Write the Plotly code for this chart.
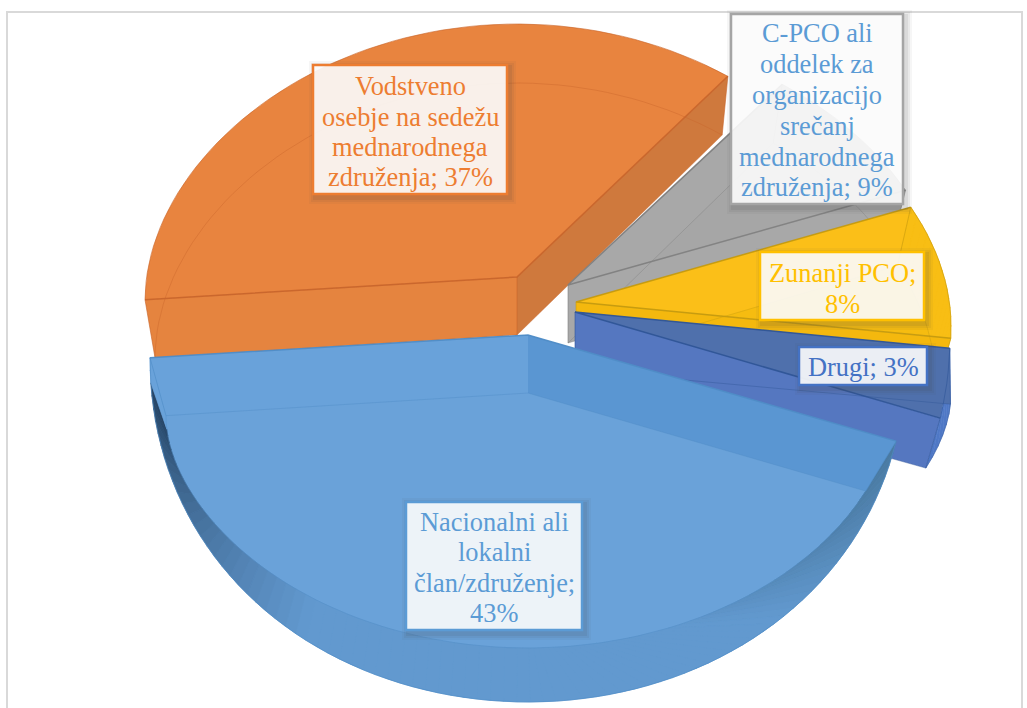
import math
import plotly.graph_objects as go

# ---- data ----
categories = ["Nacionalni ali lokalni član/združenje",
              "Vodstveno osebje na sedežu mednarodnega združenja",
              "C-PCO ali oddelek za organizacijo srečanj mednarodnega združenja",
              "Zunanji PCO", "Drugi"]
values = [43, 37, 9, 8, 3]
label_lines = [["Nacionalni ali", "lokalni", "član/združenje;", "{v}%"],
               ["Vodstveno", "osebje na sedežu", "mednarodnega", "združenja; {v}%"],
               ["C-PCO ali", "oddelek za", "organizacijo", "srečanj", "mednarodnega", "združenja; {v}%"],
               ["Zunanji PCO;", "{v}%"],
               ["Drugi; {v}%"]]

# ---- style ----
face_colors = ["#659FD8", "#E8843F", "#A6A6A6", "#F6BC10", "#4F70AC"]
edge_colors = ["#4F8CC6", "#C8642A", "#808080", "#C49A10", "#2F5597"]
end_wall = ["#69A2DA", "#CF793D", "#A8A8A8", "#F4B80E", "#5577C0"]
start_wall = ["#5A96D2", "#E5843F", "#A8A8A8", "#FBBF18", "#4F70AC"]
text_colors = ["#5B9BD5", "#ED7D31", "#5B9BD5", "#FFC000", "#4472C4"]
box_borders = ["#5B9BD5", "#ED7D31", "#A5A5A5", "#FFC000", "#4472C4"]
apex = [(528, 335), (517, 277), (568, 285), (576, 302), (575, 312)]
radius = [378, 372, 378, 375, 375]
inner_radius = [362, 362, 362, 360, 376]
DEPTH = 58
START = -12.5
boxes = [(406, 502, 582, 630), (313, 65, 507, 194), (731, 14, 903, 204),
         (760, 252, 924, 320), (799, 347, 927, 385)]
line_y = [[522, 552, 583, 613], [86, 117, 147, 177], [33, 64, 95, 126, 157, 187],
          [273, 304], [367]]
draw_order = [1, 2, 3, 4, 0]


def warp(deg):
    return (deg - 6.5 * (1 + math.cos(math.radians(deg + 167)))
            - 2 * math.exp(-((deg + 300) / 20) ** 2))


def top_rim(deg, a):
    r = math.radians(deg)
    sn, cs = math.sin(r), math.cos(r)
    if sn <= 0:
        s = -sn
        return a * cs, 367 * s + 24 * (1 - s * s)
    return a * cs, -253 * sn + 24 * (1 - sn * sn)


def bottom_rim(deg, a):
    d = (deg + 180) % 360 - 180
    if -90 < d < 0:
        d = d - 18 * math.sin(math.radians(-2 * d))
    r = math.radians(d)
    sn, cs = math.sin(r), math.cos(r)
    if sn <= 0:
        s = -sn
        return a * cs, DEPTH + 255 * s + 24 * (1 - s) ** 3
    return a * cs, DEPTH - 252 * sn + 24 * (1 - sn * sn)


def steps(a0, a1, n):
    return [a0 + (a1 - a0) * i / n for i in range(n + 1)]


def lerp_hex(c0, c1, t):
    p = [int(c0[i:i + 2], 16) for i in (1, 3, 5)]
    q = [int(c1[i:i + 2], 16) for i in (1, 3, 5)]
    return "rgb(%d,%d,%d)" % tuple(round(p[i] + (q[i] - p[i]) * t) for i in range(3))


def rgba(hexc, al):
    return "rgba(%d,%d,%d,%s)" % (int(hexc[1:3], 16), int(hexc[3:5], 16), int(hexc[5:7], 16), al)


fig = go.Figure()


def poly(xs, ys, fill=None, line=None, width=1):
    fig.add_trace(go.Scatter(
        x=xs, y=ys, mode="lines", hoverinfo="skip", showlegend=False,
        fill="toself" if fill else None, fillcolor=fill,
        line=dict(color=line or "rgba(0,0,0,0)", width=width if line else 0)))


# slice boundaries from the values
total = sum(values)
bounds = []
c = START
for v in values:
    n = c - 360 * v / total
    bounds.append((warp(c), warp(n)))
    c = n

for i in draw_order:
    a0, a1 = bounds[i]
    cx, cy = apex[i]
    a, ai = radius[i], inner_radius[i]
    col, edge = face_colors[i], edge_colors[i]
    n = max(6, int(abs(a1 - a0) / 2))
    ang = steps(a0, a1, n)
    top = [top_rim(t, a) for t in ang]
    bot = [bottom_rim(t, ai) for t in ang]
    # top face
    tx = [cx] + [cx + p[0] for p in top] + [cx]
    ty = [cy] + [cy + p[1] for p in top] + [cy]
    poly(tx, ty, rgba(col, 0.97 if i == 0 else 1))
    # rim wall between the two arcs (front slices)
    if i == 0:
        for k in range(n):
            t = (ang[k] - a1) / (a0 - a1)  # 1 at right end, 0 at left end
            if t < 0.025:
                shade = "#69A2DA"
            elif t < 0.33:
                shade = lerp_hex("#223F5E", "#6299CF", ((t - 0.025) / 0.305) ** 0.8)
            elif t < 0.8:
                shade = "#6299CF"
            else:
                shade = lerp_hex("#6299CF", "#4A7AA2", (t - 0.8) / 0.2)
            px = [cx + top[k][0], cx + top[k + 1][0], cx + bot[k + 1][0], cx + bot[k][0], cx + top[k][0]]
            py = [cy + top[k][1], cy + top[k + 1][1], cy + bot[k + 1][1], cy + bot[k][1], cy + top[k][1]]
            poly(px, py, shade, shade, 0.6)
    elif i in (3, 4):
        wall_col = "#F8BE14" if i == 3 else "#4F78C6"
        for k in range(n):
            px = [cx + top[k][0], cx + top[k + 1][0], cx + bot[k + 1][0], cx + bot[k][0], cx + top[k][0]]
            py = [cy + top[k][1], cy + top[k + 1][1], cy + bot[k + 1][1], cy + bot[k][1], cy + top[k][1]]
            poly(px, py, wall_col, wall_col, 0.6)
    # radial walls
    for idx, wall in ((0, start_wall[i]), (-1, end_wall[i])):
        wx = [cx, cx + top[idx][0], cx + bot[idx][0], cx, cx]
        wy = [cy, cy + top[idx][1], cy + bot[idx][1], cy + DEPTH, cy]
        poly(wx, wy, wall)
    # bottom face outline (seen through the slice)
    bx = [cx] + [cx + p[0] for p in bot] + [cx]
    by = [cy + DEPTH] + [cy + p[1] for p in bot] + [cy + DEPTH]
    poly(bx, by, None, rgba(edge, 0.4), 1)
    # top rim and radial top edges
    poly([cx + p[0] for p in top], [cy + p[1] for p in top], None, rgba(edge, 0.6), 1)
    poly([cx + top[0][0], cx, cx + top[-1][0]], [cy + top[0][1], cy, cy + top[-1][1]],
         None, rgba(edge, 0.95), 1.5)
    # vertical edges
    poly([cx + top[idx][0] for idx in (0,)] + [cx + bot[0][0]], [cy + top[0][1], cy + bot[0][1]],
         None, rgba(edge, 0.6), 1)
    poly([cx + top[-1][0], cx + bot[-1][0]], [cy + top[-1][1], cy + bot[-1][1]],
         None, rgba(edge, 0.6), 1)
    if i != 0:
        poly([cx, cx], [cy, cy + DEPTH], None, rgba(edge, 0.6), 1)

shapes = [dict(type="rect", x0=7, y0=12, x1=1022, y1=730, line=dict(color="#D9D9D9", width=2),
               layer="below")]
annotations = []
for i, (x0, y0, x1, y1) in enumerate(boxes):
    for off, al in ((7, 0.05), (5, 0.07), (3, 0.09)):
        shapes.append(dict(type="rect", x0=x0 - off + 3, y0=y0 - off + 3, x1=x1 + off + 2, y1=y1 + off + 3,
                           fillcolor=f"rgba(70,70,70,{al})", line=dict(width=0), layer="above"))
    shapes.append(dict(type="rect", x0=x0, y0=y0, x1=x1, y1=y1,
                       fillcolor="rgba(255,255,255,0.89)",
                       line=dict(color=box_borders[i], width=2.5), layer="above"))
    for txt, y in zip(label_lines[i], line_y[i]):
        annotations.append(dict(x=(x0 + x1) / 2, y=y, xref="x", yref="y", showarrow=False,
                                text=txt.format(v=values[i]), xanchor="center", yanchor="middle",
                                font=dict(family="Liberation Serif", size=26.4, color=text_colors[i])))

fig.update_layout(
    width=1027, height=708, margin=dict(l=0, r=0, t=0, b=0),
    paper_bgcolor="white", plot_bgcolor="white", showlegend=False,
    xaxis=dict(range=[0, 1027], visible=False, fixedrange=True),
    yaxis=dict(range=[708, 0], visible=False, fixedrange=True),
    shapes=shapes, annotations=annotations)

fig.write_html("out.html", config={"displayModeBar": False},
               post_script="document.body.style.margin='0';document.body.style.overflow='hidden';")
